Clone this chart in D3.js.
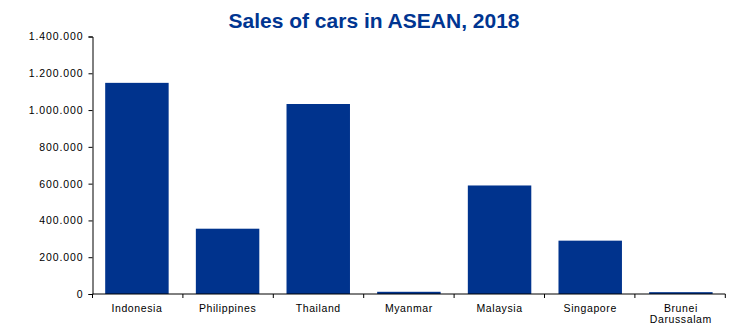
<!DOCTYPE html>
<html><head><meta charset="utf-8">
<script src="https://cdn.jsdelivr.net/npm/d3@7"></script>
<style>
body{margin:0;background:#fff;}
svg{display:block;font-family:"Liberation Sans",Arial,sans-serif;}
</style></head>
<body>
<script>
const categories = ["Indonesia","Philippines","Thailand","Myanmar","Malaysia","Singapore","Brunei Darussalam"];
const sales = [1148000, 355000, 1033000, 12000, 590000, 290000, 10000];
const yTicks = [0,200000,400000,600000,800000,1000000,1200000,1400000];
const title = "Sales of cars in ASEAN, 2018";

const W=735,H=326;
const m={left:92.5,right:10,top:36.5,bottom:31.5};
const svg=d3.select("body").append("svg").attr("width",W).attr("height",H);

const x=d3.scaleBand().domain(categories).range([m.left,m.left+7*90.4]).paddingInner(0.3).paddingOuter(0.14);
const y=d3.scaleLinear().domain([0,1400000]).range([H-m.bottom-0.5,m.top]);

const fmt=d3.formatLocale({decimal:",",thousands:".",grouping:[3],currency:["",""]}).format(",d");

svg.append("text").attr("x",374).attr("y",27.5).attr("text-anchor","middle")
  .attr("font-size",21).attr("font-weight","bold").attr("fill","#003591").text(title);

svg.selectAll("rect.bar").data(categories).join("rect").attr("class","bar")
  .attr("x",d=>x(d)).attr("width",x.bandwidth())
  .attr("y",(d,i)=>y(sales[i])).attr("height",(d,i)=>y(0)-y(sales[i]))
  .attr("fill","#00338D");

const ya=svg.append("g").attr("transform",`translate(${m.left},0)`)
  .call(d3.axisLeft(y).tickValues(yTicks).tickFormat(fmt).tickSize(4).tickPadding(5));
ya.select(".domain").attr("stroke","#000");
ya.selectAll(".tick line").attr("stroke","#000");
ya.selectAll("text").attr("font-size",10.5).attr("letter-spacing","0.9px").attr("fill","#000").attr("font-family","Liberation Sans, Arial, sans-serif");

// x axis with ticks between categories
const xa=svg.append("g").attr("transform",`translate(0,${y(0)})`);
xa.append("line").attr("x1",m.left).attr("x2",m.left+7*90.4).attr("stroke","#000");
const bounds=d3.range(8).map(i=>m.left+i*90.4);
xa.selectAll("line.t").data(bounds).join("line").attr("class","t")
  .attr("x1",d=>d).attr("x2",d=>d).attr("y1",0).attr("y2",4).attr("stroke","#000");
const ca=svg.append("g").attr("transform",`translate(0,${y(0)})`)
  .call(d3.axisBottom(x).tickSize(0).tickPadding(10.5));
ca.select(".domain").remove();
ca.selectAll(".tick text").attr("font-size",10.5).attr("letter-spacing","0.6px").attr("fill","#000")
  .attr("font-family","Liberation Sans, Arial, sans-serif")
  .each(function(d){
    const t=d3.select(this); const words=d.split(" ");
    if(words.length>1){
      t.text(null);
      words.forEach((w,i)=>t.append("tspan").attr("x",0).attr("dy",i===0?"0.71em":"1.05em").text(w));
    }
  });
</script>
</body></html>
